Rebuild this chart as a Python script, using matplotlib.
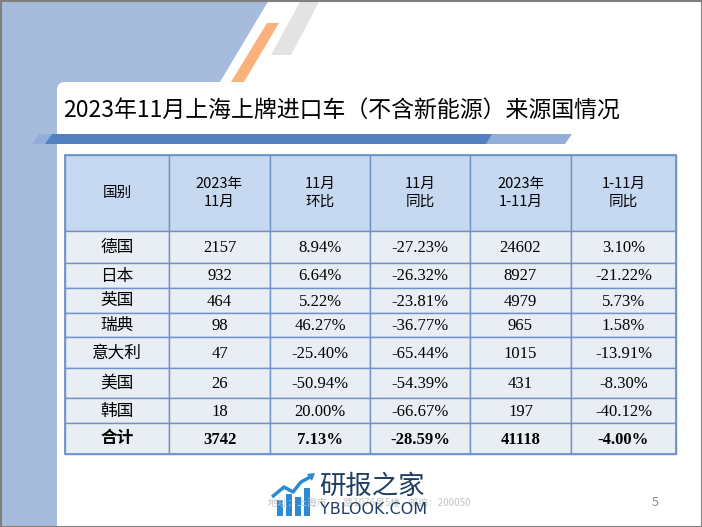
import matplotlib
matplotlib.use('Agg')
from matplotlib import pyplot as plt
from matplotlib.patches import Polygon, Rectangle, FancyBboxPatch

plt.rcParams['font.family'] = ['Noto Sans CJK SC', 'DejaVu Sans']

# 数据
title = '2023年11月上海上牌进口车（不含新能源）来源国情况'
headers = ['国别', '2023年\n11月', '11月\n环比', '11月\n同比', '2023年\n1-11月', '1-11月\n同比']
countries = ['德国', '日本', '英国', '瑞典', '意大利', '美国', '韩国', '合计']
nov_2023 = [2157, 932, 464, 98, 47, 26, 18, 3742]
nov_mom = [8.94, 6.64, 5.22, 46.27, -25.40, -50.94, 20.00, 7.13]
nov_yoy = [-27.23, -26.32, -23.81, -36.77, -65.44, -54.39, -66.67, -28.59]
ytd_2023 = [24602, 8927, 4979, 965, 1015, 431, 197, 41118]
ytd_yoy = [3.10, -21.22, 5.73, 1.58, -13.91, -8.30, -40.12, -4.00]

# 表格位置 (像素)
col_edges = [65, 169, 270, 370, 470, 571, 676]
row_edges = [155, 231, 263, 288, 313, 337, 368, 398, 423, 454]

fig = plt.figure(figsize=(7.02, 5.27), dpi=100)
ax = fig.add_axes([0, 0, 1, 1])
ax.set_xlim(0, 702)
ax.set_ylim(527, 0)
ax.axis('off')

# 背景装饰
ax.add_patch(Polygon([(0, 0), (269, 0), (214, 92), (67, 92), (67, 527), (0, 527)],
                     closed=True, color='#A7BCDC', lw=0))
ax.add_patch(Polygon([(301, 0), (320, 0), (291, 55), (271, 55)], closed=True, color='#E3E3E3', lw=0))
ax.add_patch(FancyBboxPatch((57, 82), 660, 460, boxstyle='round,pad=0,rounding_size=8',
                            fc='white', ec='none'))
ax.add_patch(Polygon([(267, 23), (279, 23), (244, 82), (231, 82)], closed=True, color='#F9B27C', lw=0))

# 标题
ax.text(63, 111, title, fontsize=16.5, va='center', ha='left', color='black')

# 标题下的蓝条
ax.add_patch(Polygon([(39, 134), (572, 134), (565, 144), (32, 144)], closed=True, color='#93AED8', lw=0))
ax.add_patch(Polygon([(52, 134), (492, 134), (486, 144), (45, 144)], closed=True, color='#5380C0', lw=0))

# 表格
grid_c = '#6F93C8'
body_font = ['Liberation Serif', 'Noto Sans CJK SC']
columns = [countries,
           [str(v) for v in nov_2023],
           [f'{v:.2f}%' for v in nov_mom],
           [f'{v:.2f}%' for v in nov_yoy],
           [str(v) for v in ytd_2023],
           [f'{v:.2f}%' for v in ytd_yoy]]

for j in range(len(headers)):
    x0, x1 = col_edges[j], col_edges[j + 1]
    xc = (x0 + x1) / 2
    # 表头
    y0, y1 = row_edges[0], row_edges[1]
    ax.add_patch(Rectangle((x0, y0), x1 - x0, y1 - y0, fc='#C6D9F1', ec=grid_c, lw=1))
    ax.text(xc, (y0 + y1) / 2, headers[j], ha='center', va='center', fontsize=10.5,
            linespacing=1.35, color='black')
    for i, val in enumerate(columns[j]):
        y0, y1 = row_edges[i + 1], row_edges[i + 2]
        ax.add_patch(Rectangle((x0, y0), x1 - x0, y1 - y0, fc='#E9EDF4', ec=grid_c, lw=1))
        bold = countries[i] == '合计'
        ax.text(xc, (y0 + y1) / 2 + 1, val, ha='center', va='center', fontsize=12,
                family=body_font, weight='bold' if bold else 'normal', color='black')

# 外框
ax.add_patch(Rectangle((col_edges[0], row_edges[0]), col_edges[-1] - col_edges[0],
                       row_edges[-1] - row_edges[0], fc='none', ec=grid_c, lw=1.3))

# 页脚
ax.text(655, 502, '5', fontsize=9, color='#8C8C8C', ha='center', va='center')
ax.text(268, 503, '地址：上海市        路1076号5楼    邮编：200050', fontsize=7,
        color='#C4C4C4', ha='left', va='center')

# 水印
bar_x = [277, 286, 295, 304]
bar_top = [500, 494, 497, 488]
for bx, bt in zip(bar_x, bar_top):
    ax.add_patch(Rectangle((bx, bt), 6, 516 - bt, color='#2A8AD4', lw=0))
ax.plot([272, 284, 293, 301, 312], [497, 487, 492, 482, 476], color='#2A8AD4', lw=2.5,
        solid_capstyle='butt')
ax.add_patch(Polygon([(307, 474), (315, 473), (312, 481)], closed=True, color='#2A8AD4', lw=0))
ax.text(319, 486, '研报之家', fontsize=19, color='#1E3D63', ha='left', va='center')
ax.text(320, 509, 'YBLOOK.COM', fontsize=11.5, color='#1E3D63', ha='left', va='center',
        family=['DejaVu Sans'])

# 幻灯片边框
ax.add_patch(Rectangle((0.5, 0.5), 701, 526, fc='none', ec='#7F7F7F', lw=1.5))

fig.savefig('out.png', dpi=100)
